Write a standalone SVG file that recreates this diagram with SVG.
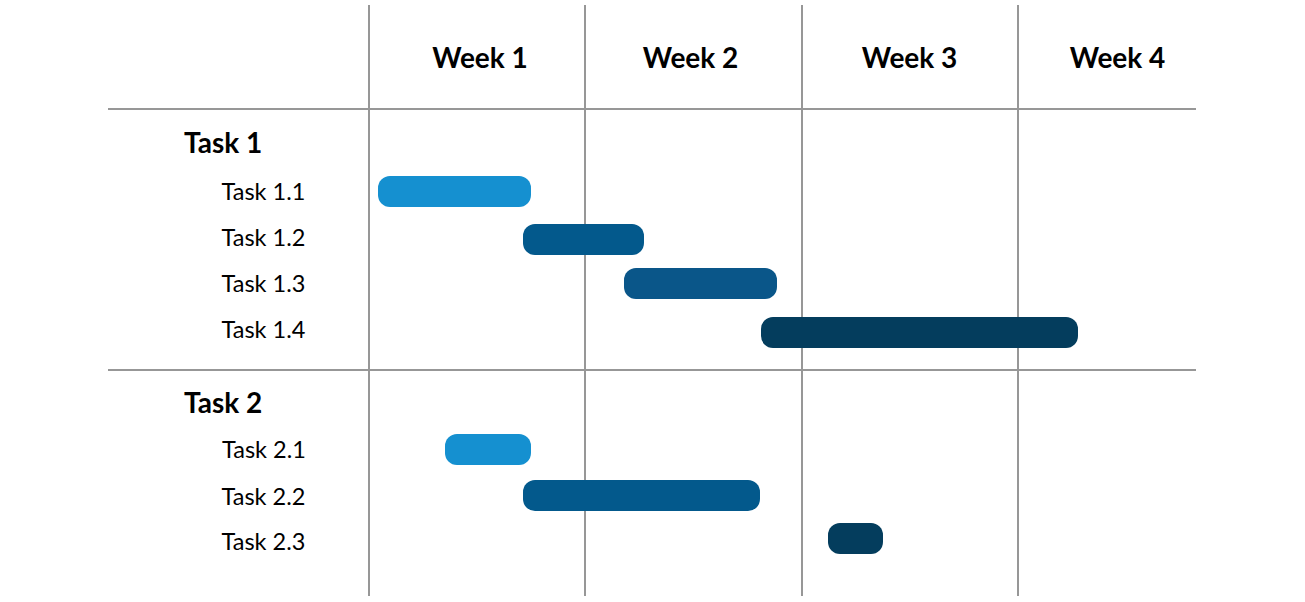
<svg xmlns="http://www.w3.org/2000/svg" width="1305" height="602" viewBox="0 0 1305 602">
  <style>
    .grid { stroke: #979797; stroke-width: 2; fill: none; }
    .week { font-family: Lato, "Liberation Sans", sans-serif; font-weight: bold; font-size: 28px; fill: #000; text-anchor: middle; }
    .group { font-family: Lato, "Liberation Sans", sans-serif; font-weight: bold; font-size: 28px; fill: #000; }
    .task { font-family: Lato, "Liberation Sans", sans-serif; font-size: 23.5px; fill: #000; }
    .light { fill: #1590D0; }
    .mid { fill: #03598C; }
    .mid2 { fill: #0A5689; }
    .dark { fill: #043D5D; }
  </style>
  <rect width="1305" height="602" fill="#ffffff"/>
  <g id="grid">
    <line class="grid" x1="369" y1="5" x2="369" y2="596"/>
    <line class="grid" x1="585" y1="5" x2="585" y2="596"/>
    <line class="grid" x1="802" y1="5" x2="802" y2="596"/>
    <line class="grid" x1="1018" y1="5" x2="1018" y2="596"/>
    <line class="grid" x1="108" y1="109" x2="1196" y2="109"/>
    <line class="grid" x1="108" y1="370" x2="1196" y2="370"/>
  </g>
  <g id="headers">
    <text class="week" x="480" y="68">Week 1</text>
    <text class="week" x="690.5" y="68">Week 2</text>
    <text class="week" x="909.5" y="68">Week 3</text>
    <text class="week" x="1117.5" y="68">Week 4</text>
  </g>
  <g id="task1">
    <text class="group" x="184" y="152.5">Task 1</text>
    <g id="task1-1"><text class="task" x="221.5" y="200">Task 1.1</text><rect class="light" x="378" y="176" width="153" height="31" rx="12"/></g>
    <g id="task1-2"><text class="task" x="221.5" y="246">Task 1.2</text><rect class="mid" x="523" y="224" width="121" height="31" rx="12"/></g>
    <g id="task1-3"><text class="task" x="221.5" y="292.3">Task 1.3</text><rect class="mid2" x="624" y="268" width="153" height="31" rx="12"/></g>
    <g id="task1-4"><text class="task" x="221.5" y="338.3">Task 1.4</text><rect class="dark" x="761" y="317" width="317" height="31" rx="12"/></g>
  </g>
  <g id="task2">
    <text class="group" x="184" y="412.7">Task 2</text>
    <g id="task2-1"><text class="task" x="222" y="458.3">Task 2.1</text><rect class="light" x="445" y="434" width="86" height="31" rx="12"/></g>
    <g id="task2-2"><text class="task" x="221.5" y="505">Task 2.2</text><rect class="mid" x="523" y="480" width="237" height="31" rx="12"/></g>
    <g id="task2-3"><text class="task" x="221.5" y="550">Task 2.3</text><rect class="dark" x="828" y="523" width="55" height="31" rx="12"/></g>
  </g>
</svg>
